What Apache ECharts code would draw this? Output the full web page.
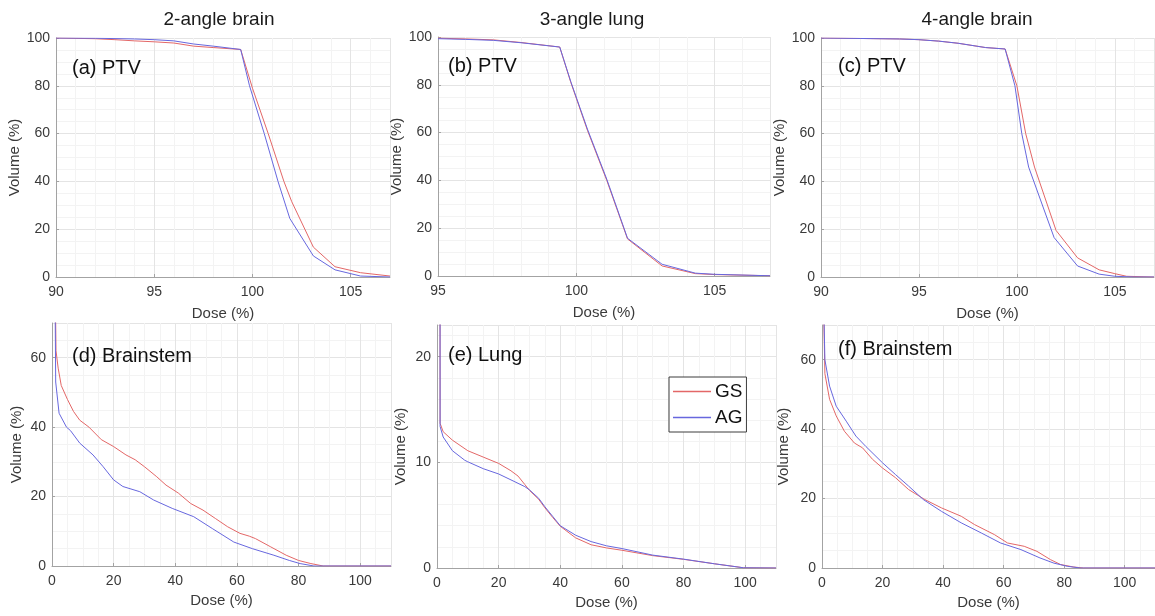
<!DOCTYPE html>
<html>
<head>
<meta charset="utf-8">
<script src="https://cdn.jsdelivr.net/npm/echarts@6/dist/echarts.min.js"></script>
<style>
html,body{margin:0;padding:0;background:#fff;}
#chart{width:1155px;height:616px;}
</style>
</head>
<body>
<div id="chart"></div>
<script>
// ---- data (Dose %, Volume %) ----
const SERIES_NAMES = ['GS', 'AG'];
const COLUMN_TITLES = ['2-angle brain', '3-angle lung', '4-angle brain'];
const PANEL_LABELS = ['(a) PTV', '(b) PTV', '(c) PTV', '(d) Brainstem', '(e) Lung', '(f) Brainstem'];
const X_LABEL = 'Dose (%)';
const Y_LABEL = 'Volume (%)';

const GS_A = [[90,100],[92,99.7],[93,99.3],[94,98.8],[95,98.4],[96,97.9],[97,96.6],[98,96],[99.4,95.2],[100,79],[100.8,60],[101.6,40],[102,31.5],[103.1,12.5],[104.2,4.3],[105.5,1.8],[107,0.4]];
const AG_A = [[90,100],[92,99.9],[94,99.6],[95,99.3],[96,98.8],[97,97.5],[98,96.6],[99.4,95.2],[99.85,80],[100.6,60],[101.3,40],[101.9,24.5],[103.1,8.8],[104.2,3],[105.5,0.4],[107,0]];

const GS_B = [[95,99.5],[96,99.2],[97,98.8],[98,97.7],[99.4,95.8],[99.8,81],[100.4,61],[101.1,40],[101.85,15.5],[103.1,4.2],[104.3,1],[105,0.6],[107,0.1]];
const AG_B = [[95,99.3],[96,99],[97,98.6],[98,97.6],[99.4,95.8],[99.8,81.3],[100.4,61.5],[101.1,40.5],[101.85,15.8],[103.1,4.9],[104.3,1.2],[105,0.7],[107,0.1]];

const GS_C = [[90,100],[92,99.8],[94,99.6],[95,99.3],[96,98.7],[97,97.8],[98.4,96],[99.4,95.4],[100,80],[100.45,60],[100.9,46],[102,19.5],[103.1,8],[104.2,3],[105,1.4],[105.6,0.3],[107,0]];
const AG_C = [[90,100],[92,99.8],[94,99.6],[95,99.3],[96,98.7],[97,97.8],[98.4,96],[99.4,95.4],[99.9,80],[100.25,60],[100.6,46],[101.9,16.5],[103.1,4.6],[104.2,1.2],[105,0.3],[106,0],[107,0]];

const GS_D = [[0,100],[0.8,100],[1.3,62],[2,57],[3,52],[5,48],[7,44.5],[9,42],[12,40],[16,36.4],[20,34.4],[24,32],[27,30.6],[30,28.6],[34,25.7],[37,23.3],[41,21],[45,18],[49,16.1],[53,13.7],[57,11.3],[61,9.4],[64,8.6],[66,7.9],[71,5.5],[76,3.1],[80,1.6],[84,0.7],[88,0],[110,0]];
const AG_D = [[0,100],[0.8,100],[1.2,53],[2.3,44],[4.7,40],[6,39],[9,35.4],[13.3,32],[16.6,28.6],[20,24.8],[23,22.9],[28.5,21.4],[33,19],[39,16.6],[46,14.2],[52,10.8],[59,6.9],[65,5],[72,3.1],[77,1.6],[80.5,0.7],[85,0],[110,0]];

const GS_E = [[0,100],[0.9,100],[1,13.7],[2,12.9],[5,12.1],[10,11.1],[15,10.5],[20,9.9],[24,9.2],[26.3,8.7],[28.5,7.9],[30,7.35],[33,6.5],[35,5.7],[37.5,4.8],[40,3.95],[45,2.85],[50,2.2],[55,1.9],[60,1.68],[70,1.17],[80,0.82],[90,0.4],[99.5,0.02],[110,0]];
const AG_E = [[0,100],[0.9,100],[1,13.4],[2,12.4],[5,11.1],[9,10.2],[10,10.05],[15,9.4],[20,8.9],[25,8.2],[28.5,7.7],[30,7.4],[33,6.6],[35,5.8],[37.5,4.9],[40,4.0],[45,3.1],[50,2.5],[55,2.1],[60,1.84],[70,1.22],[80,0.84],[90,0.4],[99.5,0.02],[110,0]];

const GS_F = [[0,100],[0.6,100],[0.95,56],[2.5,48.6],[4.7,43.8],[7.4,39.4],[10.7,36],[13.4,34.6],[16.7,31.3],[20,28.8],[24.3,26],[28.6,22.6],[34,19.7],[39.5,17.3],[46,14.9],[50.4,12.5],[57,9.6],[61.3,7.2],[66.8,6.25],[71,4.8],[75.5,2.4],[78.8,1],[83,0.3],[86.4,0],[110,0]];
const AG_F = [[0,100],[0.6,100],[0.95,60],[2.5,52.4],[4.7,46.6],[8,42.3],[11.2,38],[14.5,35],[20,30.3],[24.3,26.9],[28.6,23.6],[33.5,19.7],[39.5,16.3],[46,13],[52.6,10.1],[59,7.2],[65.7,5.3],[72,2.9],[76.6,1.4],[81,0.5],[85.3,0],[110,0]];

// ---- layout ----
const FONT = '"Liberation Sans", Arial, Helvetica, sans-serif';
const RED = '#e36767';
const BLUE = '#6767de';
const panels = [
  {grid:{left:56,top:38,width:334,height:239}, x:[90,107,5,5], y:[0,100,20,4], gs:GS_A, ag:AG_A, lab:[72,70], xGap:29, yGap:30},
  {grid:{left:438,top:37,width:332,height:239}, x:[95,107,5,5], y:[0,100,20,4], gs:GS_B, ag:AG_B, lab:[448,68], xGap:29, yGap:32},
  {grid:{left:821,top:38,width:333,height:239}, x:[90,107,5,5], y:[0,100,20,4], gs:GS_C, ag:AG_C, lab:[838,68], xGap:29, yGap:31},
  {grid:{left:52,top:323,width:339,height:243}, x:[0,110,20,4], y:[0,70,20,4], gs:GS_D, ag:AG_D, lab:[72,358], xGap:27, yGap:28},
  {grid:{left:437,top:325,width:339,height:243}, x:[0,110,20,4], y:[0,23,10,5], gs:GS_E, ag:AG_E, lab:[448,357], xGap:27, yGap:29},
  {grid:{left:822,top:325,width:337,height:243}, x:[0,110,20,4], y:[0,70,20,4], gs:GS_F, ag:AG_F, lab:[838,351], xGap:27, yGap:31}
];
const titlePos = [[219,20],[592,20],[977,20]];

function axisCommon(min, max, interval, split, hideMax) {
  return {
    type: 'value', min: min, max: max, interval: interval,
    axisLine: {show: true, onZero: false, lineStyle: {color: '#a3a3a3', width: 1}},
    axisTick: {show: true, inside: true, length: 3, lineStyle: {color: '#a3a3a3'}},
    axisLabel: {color: '#3a3a3a', fontSize: 14, fontFamily: FONT, showMaxLabel: !hideMax, showMinLabel: true},
    splitLine: {show: true, lineStyle: {color: '#e4e4e4', width: 1}},
    minorTick: {show: false, splitNumber: split},
    minorSplitLine: {show: true, lineStyle: {color: '#f3f3f3', width: 1}},
    nameTextStyle: {color: '#3a3a3a', fontSize: 15, fontFamily: FONT}
  };
}

const grids = [], xAxes = [], yAxes = [], series = [], graphics = [];
panels.forEach((p, i) => {
  grids.push(Object.assign({containLabel: false}, p.grid));
  const xa = axisCommon(p.x[0], p.x[1], p.x[2], p.x[3], p.x[1] % p.x[2] !== 0);
  xa.gridIndex = i; xa.name = X_LABEL; xa.nameLocation = 'middle'; xa.nameGap = p.xGap;
  xa.axisLabel.margin = 8;
  xAxes.push(xa);
  const ya = axisCommon(p.y[0], p.y[1], p.y[2], p.y[3], p.y[1] % p.y[2] !== 0);
  ya.gridIndex = i; ya.name = Y_LABEL; ya.nameLocation = 'middle'; ya.nameGap = p.yGap;
  ya.axisLabel.margin = 6;
  yAxes.push(ya);
  [[SERIES_NAMES[0], p.gs, RED], [SERIES_NAMES[1], p.ag, BLUE]].forEach(s => {
    series.push({
      type: 'line', name: s[0], xAxisIndex: i, yAxisIndex: i, data: s[1],
      symbol: 'none', showSymbol: false, clip: true, smooth: false,
      lineStyle: {color: s[2], width: 1}, itemStyle: {color: s[2]},
      emphasis: {disabled: true}, silent: true
    });
  });
  graphics.push({
    type: 'text', left: p.lab[0], top: p.lab[1] - 12, z: 100,
    style: {text: PANEL_LABELS[i], fill: '#111', font: '20px ' + FONT}
  });
});
COLUMN_TITLES.forEach((t, i) => {
  graphics.push({
    type: 'text', x: titlePos[i][0], y: titlePos[i][1], z: 100,
    style: {text: t, fill: '#1a1a1a', font: '19px ' + FONT, textAlign: 'center', textVerticalAlign: 'middle'}
  });
});

const chart = echarts.init(document.getElementById('chart'), null, {renderer: 'canvas'});
chart.setOption({
  animation: false,
  backgroundColor: '#ffffff',
  grid: grids,
  xAxis: xAxes,
  yAxis: yAxes,
  series: series,
  graphic: graphics,
  legend: {
    show: true, orient: 'vertical', left: 669, top: 377,
    data: [
      {name: SERIES_NAMES[0], icon: 'rect', itemStyle: {color: RED, borderWidth: 0}},
      {name: SERIES_NAMES[1], icon: 'rect', itemStyle: {color: BLUE, borderWidth: 0}}
    ],
    itemStyle: {borderWidth: 0},
    padding: [4, 4, 4, 4], itemGap: 5, itemWidth: 38, itemHeight: 1.5,
    backgroundColor: '#ffffff', borderColor: '#3c3c3c', borderWidth: 1,
    textStyle: {color: '#111', fontSize: 19, fontFamily: FONT, lineHeight: 21, padding: [0, 0, 0, -1]},
    selectedMode: false
  }
});
</script>
</body>
</html>
